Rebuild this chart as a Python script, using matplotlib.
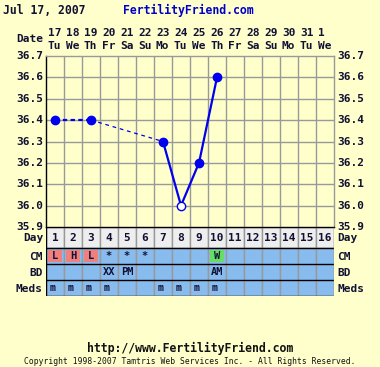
import numpy as np
import matplotlib.pyplot as plt

# chart values
dates = [17, 18, 19, 20, 21, 22, 23, 24, 25, 26, 27, 28, 29, 30, 31, 1]
weekdays = ["Tu", "We", "Th", "Fr", "Sa", "Su", "Mo", "Tu", "We", "Th", "Fr", "Sa", "Su", "Mo", "Tu", "We"]
cycle_days = list(range(1, 17))
temps = [36.4, np.nan, 36.4, np.nan, np.nan, np.nan, 36.3, 36.0, 36.2, 36.6,
         np.nan, np.nan, np.nan, np.nan, np.nan, np.nan]
open_days = [8]
cm = ["L", "H", "L", "*", "*", "*", "", "", "", "W", "", "", "", "", "", ""]
cm_colors = {"L": "#ee8080", "H": "#ee8080", "W": "#66dd66"}
bd = ["", "", "", "XX", "PM", "", "", "", "", "AM", "", "", "", "", "", ""]
meds = ["m", "m", "m", "m", "", "", "m", "m", "m", "m", "", "", "", "", "", ""]
y_ticks = [35.9, 36.0, 36.1, 36.2, 36.3, 36.4, 36.5, 36.6, 36.7]

BG = "#ffffcc"
BLUE = "#0000ee"
CELL = "#88bbee"
GRID = "#999999"
W, H = 380, 367
mono = "DejaVu Sans Mono"

fig = plt.figure(figsize=(W / 100, H / 100), dpi=100, facecolor=BG)

def fx(px):
    return px / W

def fy(py):
    return 1 - py / H

left, right = 46, 334
top, bottom = 56, 227
ax = fig.add_axes([fx(left), fy(bottom), fx(right - left), (bottom - top) / H])
ax.set_facecolor(BG)
ax.set_xlim(0.5, 16.5)
ax.set_ylim(35.9, 36.7)
for v in np.arange(1.5, 16.5, 1):
    ax.axvline(v, color=GRID, lw=1)
for t in y_ticks[1:-1]:
    ax.axhline(t, color=GRID, lw=1)
ax.spines["left"].set_color("black")
ax.spines["bottom"].set_color("black")
ax.spines["top"].set_color(GRID)
ax.spines["right"].set_color(GRID)
for s in ax.spines.values():
    s.set_linewidth(1)
ax.set_xticks([])
ax.set_yticks([])

# temperature line segments
d = np.array(cycle_days)
tp = np.array(temps)
ax.plot(d[[0, 2]], tp[[0, 2]], color=BLUE, lw=1.6, ls=(0, (2, 1.5)), zorder=3)
ax.plot(d[[2, 6]], tp[[2, 6]], color=BLUE, lw=0.9, ls=(0, (3, 3)), zorder=3)
ax.plot(d[6:10], tp[6:10], color=BLUE, lw=1.6, zorder=3)
filled = [i for i in range(16) if not np.isnan(tp[i]) and d[i] not in open_days]
ax.plot(d[filled], tp[filled], "o", color=BLUE, ms=6, zorder=4, clip_on=False)
opn = [i for i in range(16) if d[i] in open_days]
ax.plot(d[opn], tp[opn], "o", mfc="white", mec=BLUE, mew=1, ms=6, zorder=4)

# y labels both sides
for t in y_ticks:
    yy = top + (36.7 - t) / 0.8 * (bottom - top)
    fig.text(fx(43), fy(yy), f"{t:.1f}", ha="right", va="center", fontsize=8,
             fontweight="bold", family=mono, color="#111133")
    fig.text(fx(337), fy(yy), f"{t:.1f}", ha="left", va="center", fontsize=8,
             fontweight="bold", family=mono, color="#111133")

# header
fig.text(fx(3), fy(10), "Jul 17, 2007", ha="left", va="center", fontsize=8.3,
         fontweight="bold", family=mono, color="#111133")
fig.text(fx(123), fy(10), "FertilityFriend.com", ha="left", va="center", fontsize=8.3,
         fontweight="bold", family=mono, color="#0000cc")
fig.text(fx(43), fy(39), "Date", ha="right", va="center", fontsize=8,
         fontweight="bold", family=mono, color="#111133")
for i, (dt, wd) in enumerate(zip(dates, weekdays)):
    xx = left + 18 * i + 2
    fig.text(fx(xx), fy(33), str(dt), ha="left", va="center", fontsize=8,
             fontweight="bold", family=mono, color="#111133")
    fig.text(fx(xx), fy(46), wd, ha="left", va="center", fontsize=8,
             fontweight="bold", family=mono, color="#111133")

# table under the chart
rows = [227, 248, 264, 280, 296]
tab = fig.add_axes([fx(left), fy(rows[-1]), fx(right - left), (rows[-1] - rows[0]) / H])
tab.set_xlim(0.5, 16.5)
tab.set_ylim(rows[-1], rows[0])
tab.axis("off")
tab.bar(d, rows[1] - rows[0], bottom=rows[0], width=1, color="#eeeeee", edgecolor=GRID, lw=1)
tab.bar(d, rows[-1] - rows[1], bottom=rows[1], width=1, color=CELL, edgecolor=GRID, lw=1)
for r in rows:
    tab.axhline(r, color="black", lw=1)
tab.axvline(0.5, color="black", lw=1)
tab.axvline(16.5, color=GRID, lw=1)

for i in range(16):
    tab.text(d[i], (rows[0] + rows[1]) / 2 + 1, str(d[i]), ha="center", va="center",
             fontsize=8, fontweight="bold", family=mono, color="#111133")
    if cm[i] in cm_colors:
        tab.bar(d[i], rows[2] - rows[1] - 4, bottom=rows[1] + 2, width=0.8,
                color=cm_colors[cm[i]])
    if cm[i]:
        tab.text(d[i], (rows[1] + rows[2]) / 2 + 0.5, cm[i], ha="center", va="center",
                 fontsize=7.5, fontweight="bold", family=mono, color="#111133")
    if bd[i]:
        tab.text(d[i], (rows[2] + rows[3]) / 2 + 0.5, bd[i], ha="center", va="center",
                 fontsize=7.5, fontweight="bold", family=mono, color="#111133")
    if meds[i]:
        tab.text(d[i] - 0.15, (rows[3] + rows[4]) / 2 + 0.5, meds[i], ha="center", va="center",
                 fontsize=7, fontweight="bold", family=mono, color="#111133")

for name, r0, r1 in zip(["Day", "CM", "BD", "Meds"], rows[:-1], rows[1:]):
    yy = (r0 + r1) / 2 + 0.5
    fig.text(fx(43), fy(yy), name, ha="right", va="center", fontsize=8,
             fontweight="bold", family=mono, color="#111133")
    fig.text(fx(337), fy(yy), name, ha="left", va="center", fontsize=8,
             fontweight="bold", family=mono, color="#111133")

# footer
fig.text(0.5, fy(348), "http://www.FertilityFriend.com", ha="center", va="center",
         fontsize=8.3, fontweight="bold", family=mono, color="#111111")
fig.text(0.5, fy(362), "Copyright 1998-2007 Tamtris Web Services Inc. - All Rights Reserved.",
         ha="center", va="center", fontsize=5.8, family=mono, color="#111111")

fig.savefig("out.png", dpi=100, facecolor=BG)
